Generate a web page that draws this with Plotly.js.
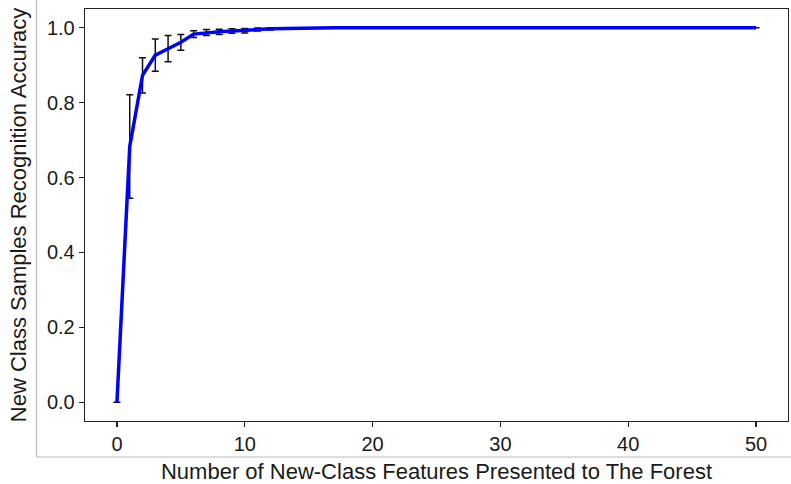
<!DOCTYPE html>
<html>
<head>
<meta charset="utf-8">
<script src="https://cdn.plot.ly/plotly-3.0.1.min.js"></script>
<style>html,body{margin:0;padding:0;background:#fff;}#chart{width:791px;height:484px;}</style>
</head>
<body>
<div id="chart"></div>
<script>
// Number of new-class features presented to the forest
const features = [0,1,2,3,4,5,6,7,8,9,10,11,12,13,14,15,16,17,18,19,20,21,22,23,24,25,26,27,28,29,30,31,32,33,34,35,36,37,38,39,40,41,42,43,44,45,46,47,48,49,50];
// Mean recognition accuracy
const accuracy = [0.000,0.683,0.873,0.927,0.944,0.961,0.983,0.987,0.989,0.991,0.992,0.995,0.997,0.998,0.999,0.999,1.000,1.000,1.000,1.000,1.000,1.000,1.000,1.000,1.000,1.000,1.000,1.000,1.000,1.000,1.000,1.000,1.000,1.000,1.000,1.000,1.000,1.000,1.000,1.000,1.000,1.000,1.000,1.000,1.000,1.000,1.000,1.000,1.000,1.000,1.000];
// Standard deviation (error bars)
const stdev = [0.000,0.138,0.047,0.043,0.035,0.021,0.009,0.008,0.007,0.006,0.006,0.004,0.003,0.002,0.001,0.001,0.000,0.000,0.000,0.000,0.000,0.000,0.000,0.000,0.000,0.000,0.000,0.000,0.000,0.000,0.000,0.000,0.000,0.000,0.000,0.000,0.000,0.000,0.000,0.000,0.000,0.000,0.000,0.000,0.000,0.000,0.000,0.000,0.000,0.000,0.000];
const xTicks = [0,10,20,30,40,50];
const yTicks = [0.0,0.2,0.4,0.6,0.8,1.0];
const xTitle = 'Number of New-Class Features Presented to The Forest';
const yTitle = 'New Class Samples Recognition Accuracy';

const W = 791, H = 484;
const m = {l:85, r:3, t:9, b:63};
const pw = W - m.l - m.r, ph = H - m.t - m.b;
const px = v => (v - m.l) / pw;
const py = v => (H - m.b - v) / ph;

const trace = {
  x: features, y: accuracy, type: 'scatter', mode: 'lines',
  line: {color: '#0000ff', width: 3.5},
  error_y: {type: 'data', array: stdev, visible: true, color: '#111', thickness: 1.5, width: 3.5},
  hoverinfo: 'x+y'
};

const font = {family: 'Liberation Sans, Arial, sans-serif', color: '#1a1a1a'};
const layout = {
  width: W, height: H,
  margin: m,
  paper_bgcolor: '#fff', plot_bgcolor: '#fff',
  showlegend: false,
  font: font,
  xaxis: {
    range: [-2.5, 52.5], tickvals: xTicks, ticktext: xTicks.map(String),
    ticks: 'outside', ticklen: 5, tickwidth: 1.2, tickcolor: '#222',
    showline: true, mirror: true, linecolor: '#222', linewidth: 1.3,
    showgrid: false, zeroline: false,
    tickfont: {family: font.family, size: 20, color: '#1a1a1a'},
    title: {text: xTitle, font: {family: font.family, size: 22, color: '#1a1a1a'}, standoff: 12}
  },
  yaxis: {
    range: [-0.05, 1.05], tickvals: yTicks, ticktext: yTicks.map(v => v.toFixed(1)),
    ticks: 'outside', ticklen: 5, tickwidth: 1.2, tickcolor: '#222',
    showline: true, mirror: true, linecolor: '#222', linewidth: 1.3,
    showgrid: false, zeroline: false,
    tickfont: {family: font.family, size: 20, color: '#1a1a1a'},
    title: {text: yTitle, font: {family: font.family, size: 22, color: '#1a1a1a'}, standoff: 14}
  },
  shapes: [
    {type: 'line', xref: 'paper', yref: 'paper', x0: px(36.5), x1: px(36.5), y0: py(0), y1: py(457), line: {color: '#bbb', width: 1.2}},
    {type: 'line', xref: 'paper', yref: 'paper', x0: px(36.5), x1: px(791), y0: py(457), y1: py(457), line: {color: '#bbb', width: 1.2}}
  ]
};

Plotly.newPlot('chart', [trace], layout, {staticPlot: true, displayModeBar: false});
</script>
</body>
</html>
